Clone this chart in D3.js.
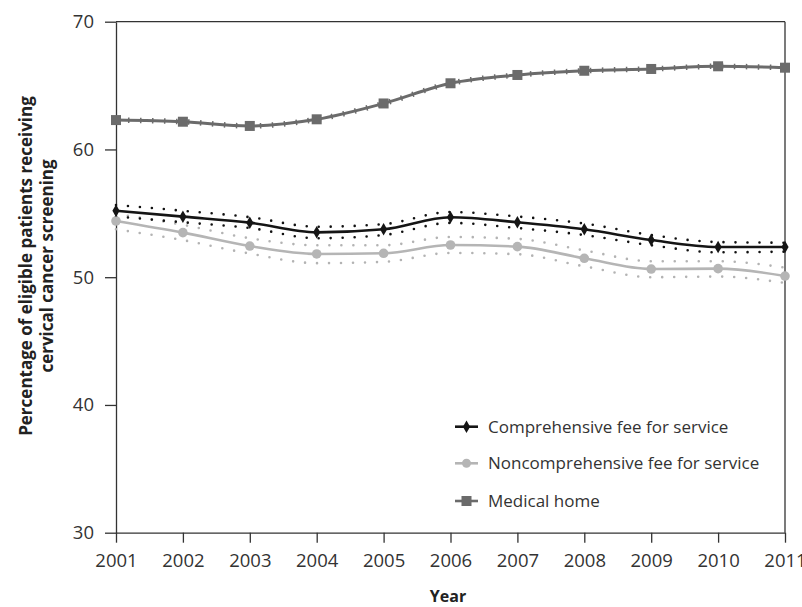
<!DOCTYPE html>
<html><head><meta charset="utf-8">
<script src="https://cdn.jsdelivr.net/npm/d3@7"></script>
<style>body{margin:0;background:#fff;} text{font-family:"Open Sans",sans-serif;}</style>
</head><body>
<svg id="c" width="802" height="607"></svg>
<script>
const years = [2001,2002,2003,2004,2005,2006,2007,2008,2009,2010,2011];
const medicalHome = [62.3,62.17,61.84,62.36,63.6,65.18,65.83,66.16,66.3,66.51,66.4];
const comprehensive = [55.2,54.74,54.27,53.51,53.75,54.69,54.3,53.75,52.91,52.36,52.36];
const compUpper = [55.65,55.2,54.7,53.95,54.15,55.1,54.75,54.2,53.3,52.75,52.7];
const compLower = [54.75,54.3,53.85,53.05,53.3,54.25,53.85,53.3,52.5,51.95,52.0];
const noncomprehensive = [54.4,53.49,52.44,51.82,51.87,52.52,52.39,51.48,50.64,50.67,50.09];
const noncompUpper = [54.95,54.1,53.05,52.5,52.5,53.15,53.0,52.1,51.25,51.25,50.75];
const noncompLower = [53.75,52.9,51.85,51.1,51.2,51.9,51.8,50.85,50.0,50.05,49.55];
const yTicks = [30,40,50,60,70];
const seriesNames = ["Comprehensive fee for service","Noncomprehensive fee for service","Medical home"];

const svg = d3.select("#c");
const x = d3.scaleLinear().domain([2001,2011]).range([116,785]);
const y = d3.scaleLinear().domain([30,70]).range([532.7,21.7]);

const axisColor = "#333";
// frame
svg.append("line").attr("x1",116).attr("x2",785).attr("y1",y(70)).attr("y2",y(70)).attr("stroke",axisColor).attr("stroke-width",1.3);
svg.append("line").attr("x1",785).attr("x2",785).attr("y1",y(70)).attr("y2",y(30)).attr("stroke",axisColor).attr("stroke-width",1.3);

const yAxis = svg.append("g").attr("transform","translate(116,0)")
  .call(d3.axisLeft(y).tickValues(yTicks).tickSize(11).tickPadding(11).tickSizeOuter(0).tickFormat(d3.format("d")));
const xAxis = svg.append("g").attr("transform",`translate(0,${y(30)})`)
  .call(d3.axisBottom(x).tickValues(years).tickSize(10).tickPadding(11).tickSizeOuter(0).tickFormat(d3.format("d")));
[yAxis,xAxis].forEach(a=>{
  a.attr("font-size",18.5).attr("font-family","Open Sans");
  a.select(".domain").attr("stroke",axisColor).attr("stroke-width",1.3);
  a.selectAll(".tick line").attr("stroke",axisColor).attr("stroke-width",1.3);
  a.selectAll("text").attr("font-size",18.5).attr("fill","#333");
});

const line = d3.line().x((d,i)=>x(years[i])).y(d=>y(d)).curve(d3.curveMonotoneX);

// CI dotted lines
function dotted(data,color){
  svg.append("path").attr("d",line(data)).attr("fill","none").attr("stroke",color)
    .attr("stroke-width",2.6).attr("stroke-linecap","round").attr("stroke-dasharray","0,12");
}
dotted(noncompUpper,"#b3b3b3");
dotted(noncompLower,"#b3b3b3");
dotted(compUpper,"#111");
dotted(compLower,"#111");

// medical home
const mhColor = "#6b6b6b";
svg.append("path").attr("d",line(medicalHome)).attr("fill","none").attr("stroke",mhColor).attr("stroke-width",3);
svg.append("path").attr("d",line(medicalHome)).attr("fill","none").attr("stroke",mhColor).attr("stroke-width",5.5).attr("stroke-dasharray","1.5,10.5");
svg.selectAll(".sq").data(medicalHome).enter().append("rect")
  .attr("x",(d,i)=>x(years[i])-5).attr("y",d=>y(d)-5).attr("width",10).attr("height",10).attr("fill",mhColor);

// noncomprehensive
const ncColor = "#b5b5b5";
svg.append("path").attr("d",line(noncomprehensive)).attr("fill","none").attr("stroke",ncColor).attr("stroke-width",2.6);
svg.selectAll(".ci").data(noncomprehensive).enter().append("circle")
  .attr("cx",(d,i)=>x(years[i])).attr("cy",d=>y(d)).attr("r",4.8).attr("fill",ncColor);

// comprehensive
const cColor = "#151515";
svg.append("path").attr("d",line(comprehensive)).attr("fill","none").attr("stroke",cColor).attr("stroke-width",2.6);
const diamond = d3.symbol().type(d3.symbolDiamond).size(45);
svg.selectAll(".dm").data(comprehensive).enter().append("path")
  .attr("d",diamond).attr("transform",(d,i)=>`translate(${x(years[i])},${y(d)})`).attr("fill",cColor);

// legend
const legY = [426.7,463.3,501];
const legColors = [cColor,ncColor,mhColor];
legY.forEach((ly,i)=>{
  const g = svg.append("g");
  g.append("line").attr("x1",455).attr("x2",478).attr("y1",ly).attr("y2",ly).attr("stroke",legColors[i]).attr("stroke-width",2.6);
  if(i===0) g.append("path").attr("d",diamond).attr("transform",`translate(466.5,${ly})`).attr("fill",cColor);
  if(i===1) g.append("circle").attr("cx",466.5).attr("cy",ly).attr("r",4.5).attr("fill",ncColor);
  if(i===2) g.append("rect").attr("x",461.5).attr("y",ly-5).attr("width",10).attr("height",10).attr("fill",mhColor);
  g.append("text").attr("x",488).attr("y",ly).attr("dy","0.35em").attr("font-size",17).attr("fill","#333").text(seriesNames[i]);
});

// axis titles
svg.append("text").attr("x",448).attr("y",602).attr("text-anchor","middle").attr("font-weight","bold").attr("font-size",16).attr("fill","#222").text("Year");
const yt = svg.append("text").attr("transform","translate(0,266) rotate(-90)").attr("text-anchor","middle").attr("font-weight","bold").attr("font-size",17).attr("fill","#222");
yt.append("tspan").attr("x",0).attr("y",32).text("Percentage of eligible patients receiving");
yt.append("tspan").attr("x",0).attr("y",53).text("cervical cancer screening");
</script>
</body></html>
